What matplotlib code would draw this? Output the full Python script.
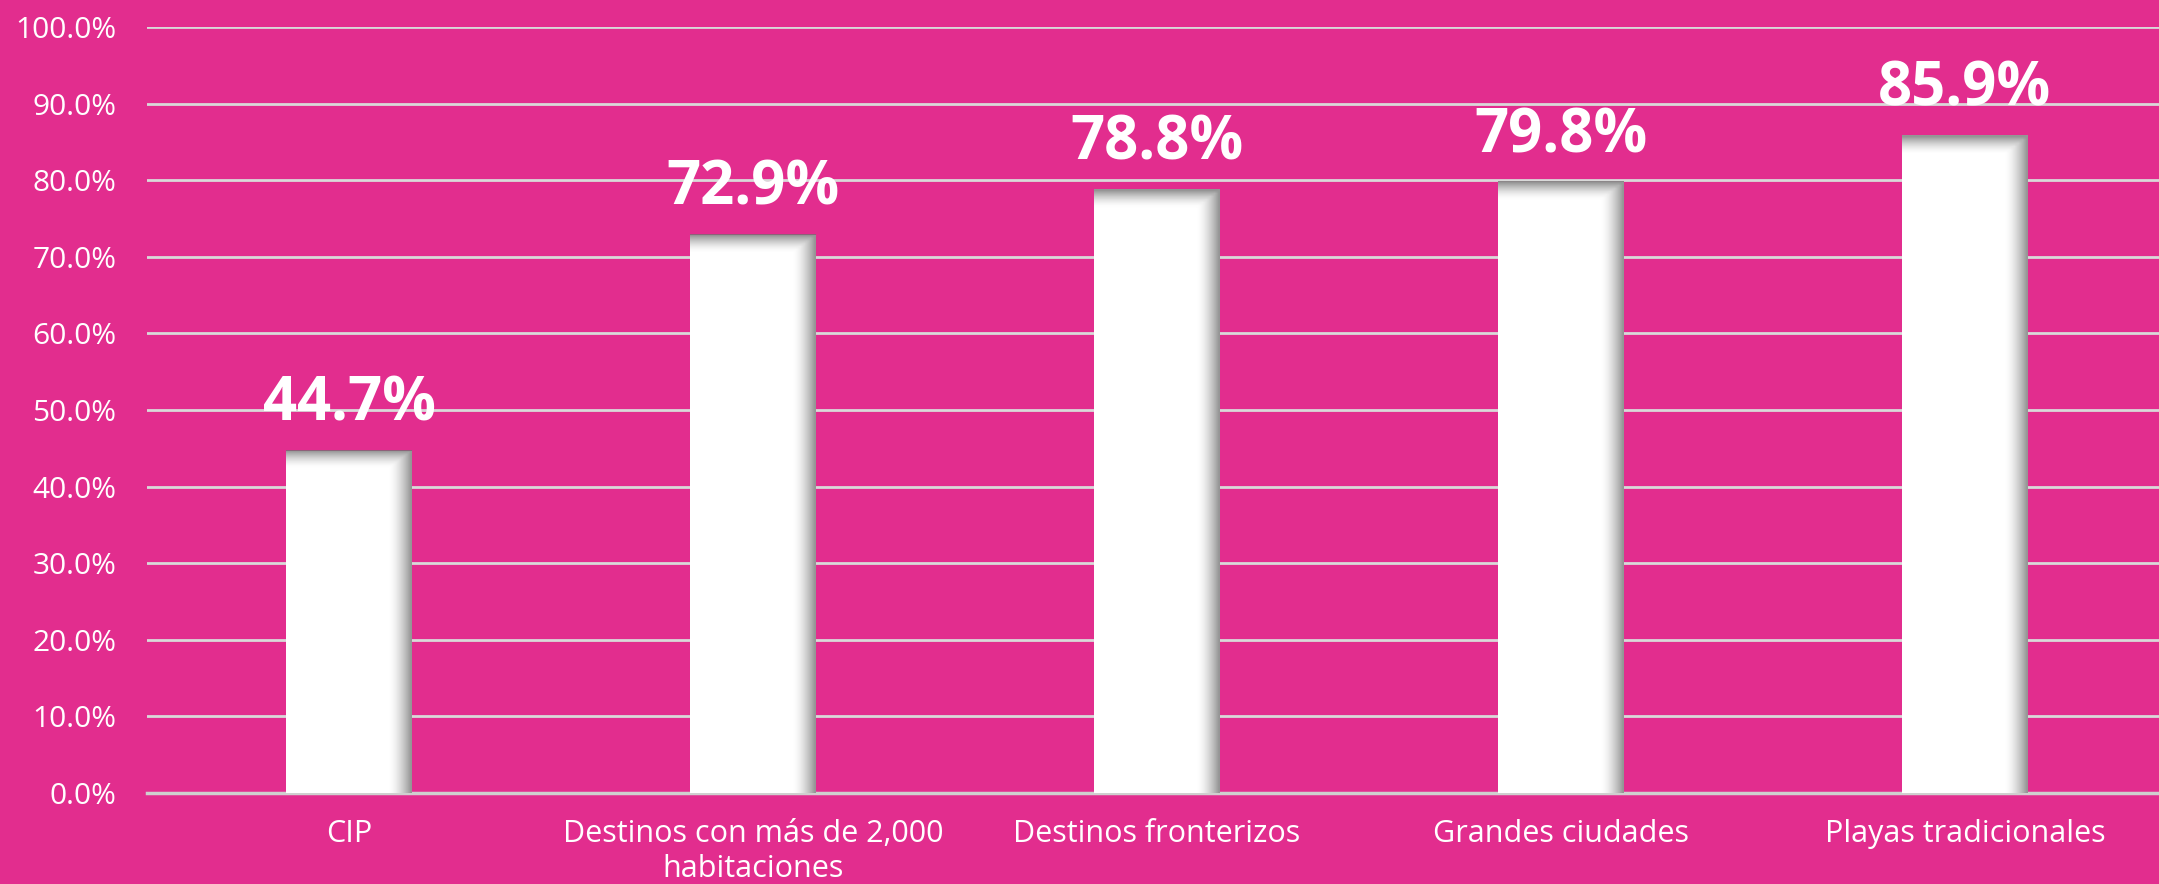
import matplotlib
matplotlib.use("Agg")
from matplotlib import pyplot as plt
import numpy as np

plt.rcParams['font.family'] = ['Open Sans', 'DejaVu Sans']

categories = ['CIP', 'Destinos con más de 2,000\nhabitaciones', 'Destinos fronterizos',
              'Grandes ciudades', 'Playas tradicionales']
values = [44.7, 72.9, 78.8, 79.8, 85.9]
yticks = np.arange(0, 101, 10)

bg = '#E22D8E'
fig = plt.figure(figsize=(21.59, 8.84), dpi=100, facecolor=bg)
ax = fig.add_axes([0.0681, 0.103, 0.9356, 0.8665], facecolor=bg)

x = np.arange(len(categories))
width = 0.31
bars = ax.bar(x, values, width=width, color='white', zorder=3)

# inner shadow along right and top edge of each bar
nx, ny = 60, 200
for b in bars:
    x0, w, h = b.get_x(), b.get_width(), b.get_height()
    xs = np.linspace(0, 1, nx)
    ys = np.linspace(0, 1, ny)
    dx = (1 - xs) * w          # distance to right edge (data units)
    dy = (1 - ys) * h          # distance to top edge
    fx = np.clip(1 - dx / 0.055, 0, 1) ** 1.6
    fy = np.clip(1 - dy / 2.2, 0, 1) ** 1.6
    a = np.maximum(fx[None, :], fy[:, None]) * 0.75
    img = np.zeros((ny, nx, 4))
    img[..., :3] = 0.45
    img[..., 3] = a
    ax.imshow(img, extent=(x0, x0 + w, 0, h), origin='lower', aspect='auto',
              interpolation='bilinear', zorder=4)

for xi, v in zip(x, values):
    ax.text(xi, v + 1.9, f'{v:.1f}%', ha='center', va='bottom', color='white',
            fontsize=43, fontweight='bold', zorder=5)

ax.set_xlim(-0.5, len(categories) - 0.5)
ax.set_ylim(0, 100)
ax.set_yticks(yticks)
ax.set_yticklabels([f'{t:.1f}%' for t in yticks])
ax.set_xticks(x)
ax.set_xticklabels(categories, linespacing=1.2)
ax.tick_params(axis='y', length=0, pad=22, labelsize=21.5, labelcolor='white')
ax.tick_params(axis='x', length=0, pad=19, labelsize=22, labelcolor='white')
ax.grid(axis='y', color='#D9D9D9', linewidth=2, zorder=0)
for s in ['top', 'right', 'left']:
    ax.spines[s].set_visible(False)
ax.spines['bottom'].set_color('#CFCFCF')
ax.spines['bottom'].set_linewidth(2.5)

fig.savefig('out.png', dpi=100, facecolor=bg)
